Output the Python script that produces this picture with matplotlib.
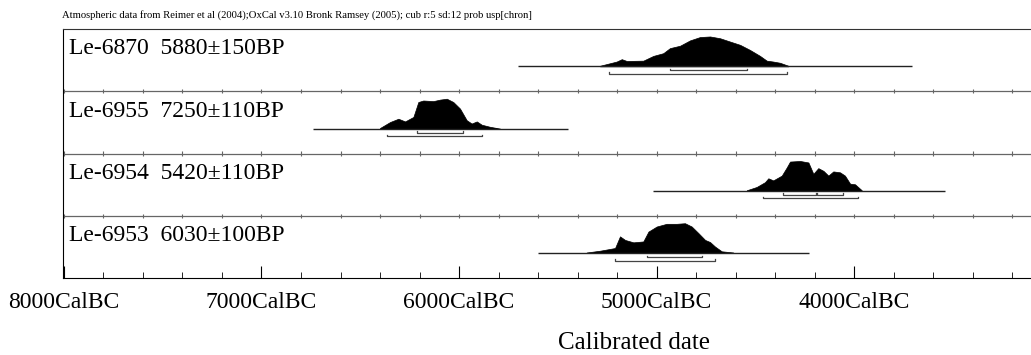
import numpy as np
import matplotlib
matplotlib.use('Agg')
import matplotlib.pyplot as plt
import matplotlib.transforms as mtransforms

plt.rcParams['font.family'] = ['Liberation Serif', 'DejaVu Serif']

# sample labels (top to bottom)
labels = ['Le-6870  5880\u00b1150BP', 'Le-6955  7250\u00b1110BP',
          'Le-6954  5420\u00b1110BP', 'Le-6953  6030\u00b1100BP']

# full calibration range drawn under each distribution (cal BC)
range_lines = [(5700, 3705), (6738, 5447), (5020, 3539), (5598, 4226)]

# probability outlines: years (cal BC) and relative heights
dist_years = [
    [5286, 5202, 5176, 5151, 5067, 5016, 4966, 4932, 4881, 4830, 4780,
     4729, 4678, 4628, 4577, 4527, 4476, 4442, 4409, 4375, 4333],
    [6400, 6349, 6307, 6273, 6231, 6206, 6181, 6130, 6096, 6062, 6029,
     5995, 5961, 5936, 5910, 5885, 5843, 5792],
    [4543, 4493, 4451, 4434, 4409, 4366, 4341, 4324, 4273, 4231, 4206,
     4181, 4155, 4130, 4105, 4071, 4046, 4020, 3995, 3961],
    [5354, 5286, 5210, 5185, 5159, 5117, 5067, 5041, 4999, 4949, 4898,
     4856, 4822, 4788, 4754, 4729, 4704, 4670, 4611],
]
dist_heights = [
    [0.02, 0.16, 0.24, 0.18, 0.19, 0.35, 0.44, 0.61, 0.69, 0.87, 0.98,
     1.0, 0.94, 0.83, 0.72, 0.55, 0.35, 0.19, 0.16, 0.12, 0.02],
    [0.02, 0.22, 0.33, 0.24, 0.39, 0.89, 0.94, 0.92, 0.97, 1.0, 0.89,
     0.67, 0.28, 0.17, 0.24, 0.13, 0.06, 0.0],
    [0.02, 0.13, 0.29, 0.42, 0.35, 0.51, 0.78, 0.98, 1.0, 0.95, 0.57,
     0.76, 0.67, 0.51, 0.65, 0.62, 0.51, 0.24, 0.22, 0.02],
    [0.02, 0.08, 0.17, 0.56, 0.44, 0.36, 0.39, 0.72, 0.89, 0.98, 0.98,
     1.0, 0.89, 0.67, 0.44, 0.37, 0.22, 0.06, 0.02],
]

# 68.2% and 95.4% ranges
ranges_68 = [[(4932, 4540)], [(6214, 5978)], [(4358, 4195), (4190, 4054)], [(5050, 4771)]]
ranges_95 = [[(5239, 4338)], [(6366, 5885)], [(4459, 3978)], [(5210, 4704)]]

major_years = [8000, 7000, 6000, 5000, 4000]
title = ('Atmospheric data from Reimer et al (2004);OxCal v3.10 Bronk Ramsey (2005); '
         'cub r:5 sd:12 prob usp[chron]')

fig = plt.figure(figsize=(10.31, 3.55), dpi=100)
ax = fig.add_axes([63 / 1031, 1 - 278 / 355, 968 / 1031, 249 / 355])
ax.set_xlim(8005, 3104)
ax.set_ylim(len(labels), 0)

base_off = 0.6
peak = 0.48
minor_years = np.arange(8000, 3000, -200)

for i, lab in enumerate(labels):
    base = i + base_off
    ax.text(0.006, i + 0.32, lab, fontsize=17, va='center', ha='left',
            transform=mtransforms.blended_transform_factory(ax.transAxes, ax.transData))
    ax.hlines(base, range_lines[i][0], range_lines[i][1], color='#222222', lw=1.0)
    ys = np.array(dist_years[i])
    hs = np.array(dist_heights[i])
    ax.fill_between(ys, base - hs * peak, base, color='black', lw=0.5)
    for off, rngs in ((0.065, ranges_68[i]), (0.12, ranges_95[i])):
        for a, b in rngs:
            ax.plot([a, a, b, b], [base + off - 0.025, base + off, base + off, base + off - 0.025],
                    color='#444444', lw=0.9)
    if i > 0:
        ax.axhline(i, color='#666666', lw=0.9)
        ax.vlines(minor_years, i - 0.035, i + 0.035, color='#666666', lw=0.8)

ax.spines['right'].set_visible(False)
ax.spines['top'].set_color('#333333')
ax.set_yticks([])
ax.set_xticks(major_years)
ax.set_xticklabels([f'{y}CalBC' for y in major_years], fontsize=17)
ax.set_xticks(minor_years, minor=True)
ax.tick_params(axis='x', which='major', direction='in', length=9, pad=10)
ax.tick_params(axis='x', which='minor', direction='in', length=4)

fig.text(62 / 1031, 1 - 15 / 355, title, fontsize=7.7, va='center', ha='left')
fig.text(634 / 1031, 1 - 343 / 355, 'Calibrated date', fontsize=18, va='center', ha='center')

fig.savefig('out.png', dpi=100)
